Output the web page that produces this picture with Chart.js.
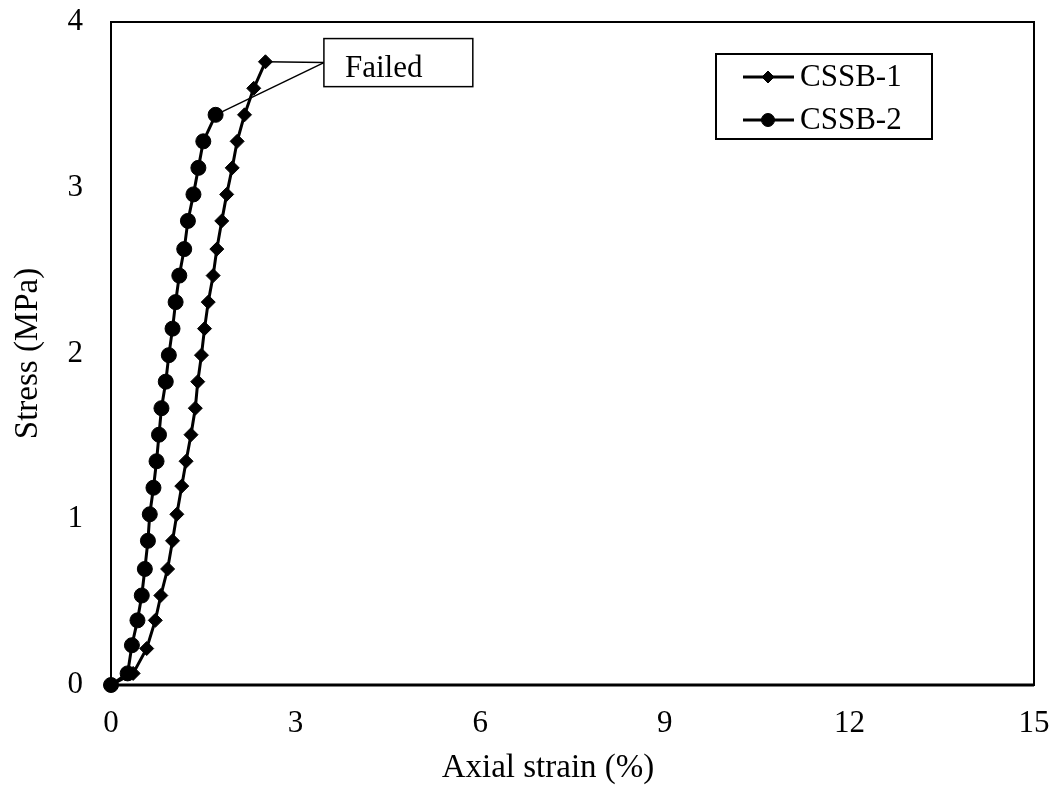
<!DOCTYPE html>
<html>
<head>
<meta charset="utf-8">
<script src="https://cdn.jsdelivr.net/npm/chart.js@4.4.1/dist/chart.umd.min.js"></script>
<style>
  html, body { margin: 0; padding: 0; background: #fff; }
  #wrap { width: 1058px; height: 789px; }
</style>
</head>
<body>
<div id="wrap"><canvas id="stressChart"></canvas></div>
<script>
// CSSB-1 (diamonds)
const strain1 = [0, 0.36, 0.58, 0.72, 0.81, 0.92, 1.00, 1.07, 1.15, 1.22, 1.30, 1.37, 1.41,
                 1.47, 1.52, 1.58, 1.66, 1.72, 1.80, 1.88, 1.97, 2.05, 2.17, 2.32, 2.51];
const stress1 = [0, 0.07, 0.22, 0.39, 0.54, 0.70, 0.87, 1.03, 1.20, 1.35, 1.51, 1.67, 1.83,
                 1.99, 2.15, 2.31, 2.47, 2.63, 2.80, 2.96, 3.12, 3.28, 3.44, 3.60, 3.76];

// CSSB-2 (circles)
const strain2 = [0, 0.27, 0.34, 0.43, 0.50, 0.55, 0.60, 0.63, 0.69, 0.74, 0.78, 0.82,
                 0.89, 0.94, 1.00, 1.05, 1.11, 1.19, 1.25, 1.34, 1.42, 1.50, 1.70];
const stress2 = [0, 0.07, 0.24, 0.39, 0.54, 0.70, 0.87, 1.03, 1.19, 1.35, 1.51, 1.67,
                 1.83, 1.99, 2.15, 2.31, 2.47, 2.63, 2.80, 2.96, 3.12, 3.28, 3.44];

const seriesNames = ['CSSB-1', 'CSSB-2'];
const xTicks = [0, 3, 6, 9, 12, 15];
const yTicks = [0, 1, 2, 3, 4];
const xTitle = 'Axial strain (%)';
const yTitle = 'Stress (MPa)';
const calloutText = 'Failed';

const FONT = "'Liberation Serif', 'Times New Roman', serif";
const FS = 31;
const TITLE_FS = 33;

const toPoints = (xs, ys) => xs.map((x, i) => ({ x: x, y: ys[i] }));

// frame around the plot area, x title, the "Failed" callout and the boxed legend
const decorations = {
    id: 'decorations',
    afterDatasetsDraw(chart) {
        const { ctx, chartArea: a, scales } = chart;
        ctx.save();
        ctx.strokeStyle = '#000';
        ctx.lineWidth = 2;
        ctx.strokeRect(a.left, a.top, a.right - a.left, a.bottom - a.top);
        ctx.lineWidth = 3;
        ctx.beginPath();
        ctx.moveTo(a.left, a.bottom);
        ctx.lineTo(a.right, a.bottom);
        ctx.stroke();

        // x axis title (sits a little left of centre)
        ctx.fillStyle = '#000';
        ctx.font = TITLE_FS + 'px ' + FONT;
        ctx.textAlign = 'center';
        ctx.textBaseline = 'middle';
        ctx.fillText(xTitle, 548, 768);

        // callout box
        const bx = scales.x.getPixelForValue(3.46);
        const bx2 = scales.x.getPixelForValue(5.88);
        const by = scales.y.getPixelForValue(3.90);
        const by2 = scales.y.getPixelForValue(3.61);
        const ay = by + 24;
        ctx.lineWidth = 1.5;
        const tips = [
            chart.getDatasetMeta(0).data[strain1.length - 1],
            chart.getDatasetMeta(1).data[strain2.length - 1]
        ];
        tips.forEach(p => {
            ctx.beginPath();
            ctx.moveTo(bx, ay);
            ctx.lineTo(p.x, p.y);
            ctx.stroke();
        });
        ctx.fillStyle = '#fff';
        ctx.fillRect(bx, by, bx2 - bx, by2 - by);
        ctx.strokeRect(bx, by, bx2 - bx, by2 - by);
        ctx.fillStyle = '#000';
        ctx.font = FS + 'px ' + FONT;
        ctx.textAlign = 'left';
        ctx.textBaseline = 'alphabetic';
        ctx.fillText(calloutText, bx + 21, by + 38);

        // legend
        const lx = 716, ly = 54, lw = 216, lh = 85;
        ctx.fillStyle = '#fff';
        ctx.fillRect(lx, ly, lw, lh);
        ctx.lineWidth = 2;
        ctx.strokeRect(lx, ly, lw, lh);
        const styles = [
            { pointStyle: 'rectRot', radius: 6 },
            { pointStyle: 'circle', radius: 6.5 }
        ];
        seriesNames.forEach((name, i) => {
            const yy = ly + 23 + i * 43;
            ctx.lineWidth = 3;
            ctx.strokeStyle = '#000';
            ctx.beginPath();
            ctx.moveTo(743, yy);
            ctx.lineTo(794, yy);
            ctx.stroke();
            ctx.fillStyle = '#000';
            ctx.lineWidth = 1;
            Chart.helpers.drawPoint(ctx, { pointStyle: styles[i].pointStyle, radius: styles[i].radius, rotation: 0, borderWidth: 1 }, 768, yy);
            ctx.fillStyle = '#000';
            ctx.font = FS + 'px ' + FONT;
            ctx.textBaseline = 'middle';
            ctx.fillText(name, 800, yy + 1);
        });
        ctx.restore();
    }
};

const ctx = document.getElementById('stressChart').getContext('2d');
new Chart(ctx, {
    type: 'scatter',
    data: {
        datasets: [
            {
                label: seriesNames[0],
                data: toPoints(strain1, stress1),
                showLine: true,
                borderColor: '#000',
                borderWidth: 3,
                backgroundColor: '#000',
                pointStyle: 'rectRot',
                pointRadius: 7,
                pointBorderWidth: 1,
                pointBackgroundColor: '#000',
                pointBorderColor: '#000',
                clip: false
            },
            {
                label: seriesNames[1],
                data: toPoints(strain2, stress2),
                showLine: true,
                borderColor: '#000',
                borderWidth: 3,
                backgroundColor: '#000',
                pointStyle: 'circle',
                pointRadius: 7.5,
                pointBorderWidth: 1,
                pointBackgroundColor: '#000',
                pointBorderColor: '#000',
                clip: false
            }
        ]
    },
    options: {
        responsive: true,
        maintainAspectRatio: false,
        animation: false,
        layout: { padding: { top: 22, right: 24, left: 0, bottom: 0 } },
        plugins: {
            legend: { display: false },
            tooltip: { enabled: false }
        },
        scales: {
            x: {
                type: 'linear',
                min: 0,
                max: 15,
                afterFit: s => {
                    s.height = 104;
                    s.paddingLeft = 0;
                    s.paddingRight = 0;
                },
                afterBuildTicks: s => { s.ticks = xTicks.map(v => ({ value: v })); },
                grid: { display: false, drawTicks: false },
                border: { display: false },
                ticks: { color: '#000', font: { family: FONT, size: FS }, padding: 20, maxRotation: 0 },
                title: { display: false }
            },
            y: {
                type: 'linear',
                min: 0,
                max: 4,
                afterFit: s => {
                    s.width = 111;
                    s.paddingTop = 0;
                    s.paddingBottom = 0;
                },
                afterBuildTicks: s => { s.ticks = yTicks.map(v => ({ value: v })); },
                grid: { display: false, drawTicks: false },
                border: { display: false },
                ticks: { color: '#000', font: { family: FONT, size: FS }, padding: 28 },
                title: {
                    display: true,
                    text: yTitle,
                    color: '#000',
                    font: { family: FONT, size: TITLE_FS },
                    padding: { top: 9, bottom: 0 }
                }
            }
        }
    },
    plugins: [decorations]
});
</script>
</body>
</html>
